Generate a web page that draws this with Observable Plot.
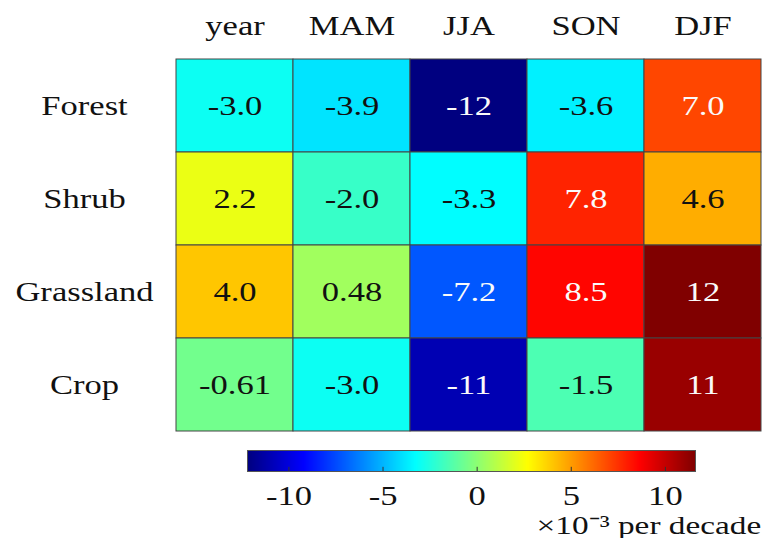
<!DOCTYPE html>
<html>
<head>
<meta charset="utf-8">
<script src="https://cdn.jsdelivr.net/npm/d3@7"></script>
<script src="https://cdn.jsdelivr.net/npm/@observablehq/plot@0.6"></script>
<style>
  html, body { margin: 0; padding: 0; background: #fff; }
  #chart { width: 769px; }
  #chart svg { display: block; font-family: "Liberation Serif", "Times New Roman", serif !important; }
  #chart svg text { font-family: "Liberation Serif", "Times New Roman", serif; }
</style>
</head>
<body>
<div id="chart"></div>
<script>
// ---- data ----
const seasons = ["year", "MAM", "JJA", "SON", "DJF"];
const landTypes = ["Forest", "Shrub", "Grassland", "Crop"];
const forest    = [-3.0, -3.9, -12.2, -3.6, 7.0];
const shrub     = [2.2, -2.0, -3.3, 7.8, 4.6];
const grassland = [4.0, 0.48, -7.2, 8.5, 11.6];
const crop      = [-0.61, -3.0, -11, -1.5, 11];
const colorDomain = [-12.2, 11.6];
const barTicks = [-10, -5, 0, 5, 10];
const unitLabel = "×10⁻³ per decade";

const rowsValues = [forest, shrub, grassland, crop];
const table = [];
landTypes.forEach((lt, i) => seasons.forEach((s, j) => table.push({land: lt, season: s, value: rowsValues[i][j]})));

// jet colormap
const clamp = v => Math.max(0, Math.min(1, v));
function jet(t) {
  const r = clamp(Math.min(4 * t - 1.5, -4 * t + 4.5));
  const g = clamp(Math.min(4 * t - 0.5, -4 * t + 3.5));
  const b = clamp(Math.min(4 * t + 0.5, -4 * t + 2.5));
  return `rgb(${Math.round(r * 255)},${Math.round(g * 255)},${Math.round(b * 255)})`;
}
const colorOpts = {type: "linear", domain: colorDomain, interpolate: jet};

const locale = d3.formatLocale({decimal: ".", thousands: ",", grouping: [3], currency: ["$", ""], minus: "-"});
const fmt = locale.format(".2r");
const FONT = "Liberation Serif";
const FS = 27;
const STYLE = "font-family: 'Liberation Serif', serif; font-size: 27px; background: #fff; overflow: visible;";

const main = Plot.plot({
  width: 769,
  height: 440,
  marginLeft: 174,
  marginRight: 7,
  marginTop: 57,
  marginBottom: 8,
  style: STYLE,
  x: {type: "band", domain: seasons, padding: 0, axis: null},
  y: {type: "band", domain: landTypes, padding: 0, axis: null},
  color: colorOpts,
  marks: [
    Plot.cell(table, {x: "season", y: "land", fill: "value", stroke: "#444", strokeWidth: 1, inset: 0}),
    Plot.text(table, {
      x: "season", y: "land", text: d => fmt(d.value),
      fill: d => (d.value <= -7 || d.value >= 6.5) ? "#fafafa" : "#111",
      fontSize: FS, fontFamily: FONT, lineAnchor: "middle"
    }),
    Plot.text(seasons, {x: d => d, frameAnchor: "top", dy: -31, text: d => d, fill: "#111", fontSize: FS, fontFamily: FONT, lineAnchor: "middle"}),
    Plot.text(landTypes, {y: d => d, frameAnchor: "left", dx: -90, text: d => d, fill: "#111", fontSize: FS, fontFamily: FONT, textAnchor: "middle", lineAnchor: "middle"})
  ]
});

let barMark;
if (Plot.raster) {
  barMark = Plot.raster({x1: colorDomain[0], x2: colorDomain[1], y1: 0, y2: 1, width: 448, height: 1, fill: (x, y) => x, imageRendering: "auto"});
} else {
  const n = 448, step = (colorDomain[1] - colorDomain[0]) / n;
  const stops = d3.range(n).map(i => colorDomain[0] + i * step);
  barMark = Plot.rect(stops, {x1: d => d, x2: d => d + step * 1.5, y1: 0, y2: 1, fill: d => d + step / 2});
}

const bar = Plot.plot({
  width: 769,
  height: 98,
  marginLeft: 247,
  marginRight: 74,
  marginTop: 10,
  marginBottom: 67,
  style: STYLE,
  x: {type: "linear", domain: colorDomain, axis: null},
  y: {type: "linear", domain: [0, 1], axis: null},
  color: colorOpts,
  marks: [
    barMark,
    Plot.ruleX(barTicks, {x: d => d, y1: 0, y2: 0.2, stroke: "#333", strokeWidth: 1}),
    Plot.frame({stroke: "#555", strokeWidth: 1}),
    Plot.text(barTicks, {x: d => d, y: 0, dy: 25, text: d => String(d), fill: "#111", fontSize: FS, fontFamily: FONT, lineAnchor: "middle"}),
    Plot.text([unitLabel], {frameAnchor: "bottom-left", dx: 289, dy: 54, text: d => d, fill: "#111", fontSize: 26, fontFamily: FONT, textAnchor: "start", lineAnchor: "middle"})
  ]
});

const chart = document.getElementById("chart");
chart.appendChild(main);
chart.appendChild(bar);

// stretch text horizontally to match the reference's wide glyphs
const SX = 1.28;
chart.querySelectorAll("svg text").forEach(t => {
  const xa = t.getAttribute("x");
  const tr = t.getAttribute("transform") || "";
  let pre = "";
  if (xa !== null && !isNaN(+xa)) { pre = ` translate(${+xa},0)`; t.removeAttribute("x"); }
  t.setAttribute("transform", `${tr}${pre} scale(${SX},1)`);
});
</script>
</body>
</html>
